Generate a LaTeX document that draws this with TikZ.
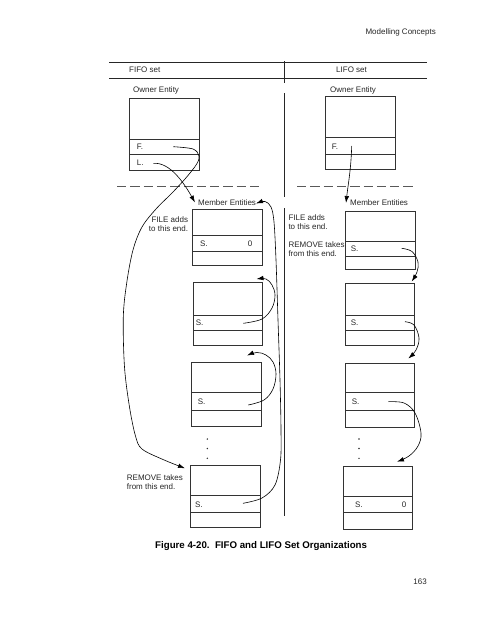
\documentclass[tikz,border=0pt]{standalone}
\usepackage{fontspec}
\setmainfont{Liberation Sans}
\usetikzlibrary{arrows.meta}
\tikzset{
  lbl/.style={font=\fontsize{8}{9.2}\selectfont, inner sep=0pt, text=black!85},
  figcap/.style={font=\fontsize{9.7}{11}\selectfont\bfseries, inner sep=0pt},
  box/.style={draw=black!80, line width=0.7pt, inner sep=0pt, outer sep=0pt, anchor=north west},
  div/.style={draw=black!80, line width=0.7pt},
  rule/.style={draw=black!85, line width=0.8pt},
  dashrule/.style={draw=black!65, line width=0.8pt, dash pattern=on 9.3pt off 4pt},
  link/.style={draw=black, line width=0.6pt, -{Latex[length=7pt,width=4.6pt]}},
  dotmark/.style={circle, fill=black!80, inner sep=0pt, minimum size=1.6pt},
}
\begin{document}
\begin{tikzpicture}[x=1pt,y=-1pt]
\useasboundingbox (0,0) rectangle (495,640);

% header / footer
\node[lbl, anchor=mid east] (hdr) at (436,32) {Modelling Concepts};
\node[lbl, anchor=mid east] (pg) at (427,581.7) {163};
\node[figcap, anchor=mid west] (caption) at (155,545.5) {Figure 4-20.\ \ FIFO and LIFO Set Organizations};

% rules
\draw[rule] (109,62.3) -- (427,62.3);
\draw[rule] (109,78.7) -- (427,78.7);
\draw[rule] (284.5,61) -- (284.5,83);
\draw[rule] (284.5,93) -- (284.5,197);
\draw[rule] (284.5,208) -- (284.5,516);
\draw[dashrule] (117,186) -- (260,186);
\draw[dashrule] (297,186) -- (413,186);

\node[lbl, anchor=mid west] (fifo) at (129,70) {FIFO set};
\node[lbl, anchor=mid west] (lifo) at (336,70) {LIFO set};
\node[lbl, anchor=mid west] (ownA) at (133,90) {Owner Entity};
\node[lbl, anchor=mid west] (ownB) at (330,90) {Owner Entity};

% owner boxes
\node[box, minimum width=70pt, minimum height=72pt] (o1) at (129.3,98) {};
\draw[div] (129.3,139.3) -- (199.3,139.3);
\draw[div] (129.3,154) -- (199.3,154);
\node[lbl, anchor=mid west] (o1F) at (136.7,147) {F.};
\node[lbl, anchor=mid west] (o1L) at (136.7,162.7) {L.};

\node[box, minimum width=69.3pt, minimum height=72.3pt] (o2) at (325.7,96.7) {};
\draw[div] (325.7,137.3) -- (395,137.3);
\draw[div] (325.7,154.7) -- (395,154.7);
\node[lbl, anchor=mid west] (o2F) at (331.7,146.7) {F.};

% member labels
\node[lbl, anchor=mid west] (meA) at (198,203.3) {Member Entities};
\node[lbl, anchor=mid west] (meB) at (350,203.3) {Member Entities};
\node[lbl, anchor=north east, align=right] (fileA) at (188.3,216) {FILE adds\\to this end.};
\node[lbl, anchor=north west, align=left] (remA) at (126.7,474) {REMOVE takes\\from this end.};
\node[lbl, anchor=north west, align=left] (fileB) at (288.3,214) {FILE adds\\to this end.};
\node[lbl, anchor=north west, align=left] (remB) at (288.3,241.3) {REMOVE takes\\from this end.};

% FIFO member boxes
\node[box, minimum width=69.6pt, minimum height=56.4pt] (a1) at (192.7,209.3) {};
\draw[div] (192.7,235.3) -- (262.3,235.3);
\draw[div] (192.7,251.3) -- (262.3,251.3);
\node[lbl, anchor=mid west] (a1S) at (200,244) {S.};
\node[lbl, anchor=mid] (a1Z) at (250,244) {0};

\node[box, minimum width=69.4pt, minimum height=63.4pt] (a2) at (193.3,282.3) {};
\draw[div] (193.3,315.3) -- (262.7,315.3);
\draw[div] (193.3,330.7) -- (262.7,330.7);
\node[lbl, anchor=mid west] (a2S) at (195.7,322.7) {S.};

\node[box, minimum width=70pt, minimum height=63.3pt] (a3) at (191.7,362.7) {};
\draw[div] (191.7,392.7) -- (261.7,392.7);
\draw[div] (191.7,410.7) -- (261.7,410.7);
\node[lbl, anchor=mid west] (a3S) at (197.7,402.3) {S.};

\node[box, minimum width=70pt, minimum height=62pt] (a4) at (190,465.7) {};
\draw[div] (190,495.3) -- (260,495.3);
\draw[div] (190,512.3) -- (260,512.3);
\node[lbl, anchor=mid west] (a4S) at (195,505) {S.};

\node[dotmark] (ad1) at (207.3,439) {};
\node[dotmark] (ad2) at (207.3,448.5) {};
\node[dotmark] (ad3) at (207.3,458.3) {};

% LIFO member boxes
\node[box, minimum width=69.6pt, minimum height=58pt] (b1) at (345.7,211) {};
\draw[div] (345.7,241) -- (415.3,241);
\draw[div] (345.7,256) -- (415.3,256);
\node[lbl, anchor=mid west] (b1S) at (350.7,249) {S.};

\node[box, minimum width=69.3pt, minimum height=62pt] (b2) at (345,283.7) {};
\draw[div] (345,315.3) -- (414.3,315.3);
\draw[div] (345,330) -- (414.3,330);
\node[lbl, anchor=mid west] (b2S) at (350.7,322.7) {S.};

\node[box, minimum width=69.3pt, minimum height=64pt] (b3) at (345,363.3) {};
\draw[div] (345,392.3) -- (414.3,392.3);
\draw[div] (345,410) -- (414.3,410);
\node[lbl, anchor=mid west] (b3S) at (351.7,402.3) {S.};

\node[box, minimum width=69.4pt, minimum height=62.3pt] (b4) at (343.3,466.7) {};
\draw[div] (343.3,496.7) -- (412.7,496.7);
\draw[div] (343.3,512.7) -- (412.7,512.7);
\node[lbl, anchor=mid west] (b4S) at (355,505) {S.};
\node[lbl, anchor=mid] (b4Z) at (404,505) {0};

\node[dotmark] (bd1) at (359,439) {};
\node[dotmark] (bd2) at (359,448.5) {};
\node[dotmark] (bd3) at (359,458.3) {};

% connector end points
\coordinate (fS) at (173.3,146.7);
\coordinate (lS) at (153.3,163.3);
\coordinate (tF) at (185,468.3);
\coordinate (tL) at (195,202.5);
\coordinate (s2) at (243.3,323.3);
\coordinate (s3) at (248.3,405);
\coordinate (s4) at (243,503.3);
\coordinate (t1) at (256,203.5);
\coordinate (t2) at (256.5,279);
\coordinate (t3) at (247,355.5);
\coordinate (gS) at (351.7,146);
\coordinate (gT) at (346,203);
\coordinate (u1) at (401.7,248.3);
\coordinate (u2) at (405,321.7);
\coordinate (u3) at (388.3,401.7);
\coordinate (v1) at (411.7,281.5);
\coordinate (v2) at (408.3,358.5);
\coordinate (v3) at (397,461.7);

% FIFO pointers
\draw[link] (lS) .. controls (170,162) and (184,183) .. (tL);
\draw[link] plot[smooth, tension=0.55] coordinates {(fS) (193,149) (199,156) (196.7,164) (186.7,177) (173,192) (156,209) (142,227) (133,250) (126.7,283) (123.3,317) (124.5,367) (129.5,407) (135.5,436) (142,449) (163,459.5) (tF)};
\draw[link] plot[smooth, tension=0.6] coordinates {(s2) (262,319) (272,308) (275,295) (272,285) (266,279) (t2)};
\draw[link] plot[smooth, tension=0.6] coordinates {(s3) (264,400) (273,389) (276,374) (273,362) (266,355) (257,352.5) (t3)};
\draw[link] plot[smooth, tension=0.55] coordinates {(s4) (262,498) (275,485) (280.5,460) (281,430) (280,380) (278,320) (276,260) (274,222) (271,207) (265,201.5) (t1)};

% LIFO pointers
\draw[link] (gS) .. controls (351,170) and (348,185) .. (gT);
\draw[link] plot[smooth, tension=0.6] coordinates {(u1) (412,251.5) (418,262) (417,272) (v1)};
\draw[link] plot[smooth, tension=0.6] coordinates {(u2) (414,325) (419,338) (416,350) (v2)};
\draw[link] plot[smooth, tension=0.6] coordinates {(u3) (404,403) (415,413) (421,433) (418,446) (409,456) (v3)};
\end{tikzpicture}
\end{document}
